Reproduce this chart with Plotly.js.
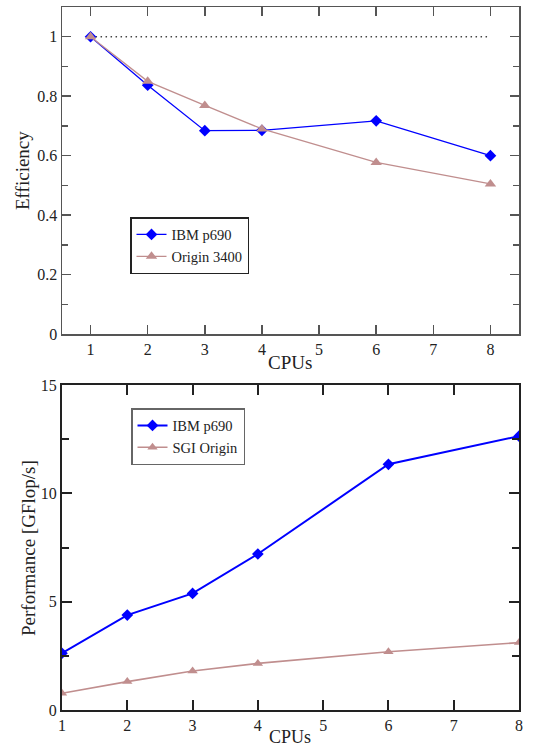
<!DOCTYPE html>
<html>
<head>
<meta charset="utf-8">
<script src="https://cdn.plot.ly/plotly-3.0.1.min.js"></script>
<style>html,body{margin:0;padding:0;background:#fff;}#chart{width:533px;height:749px;}</style>
</head>
<body>
<div id="chart"></div>
<script>
// ---- data ----
const cpus = [1, 2, 3, 4, 6, 8];
const effIBM = [1.0, 0.837, 0.684, 0.685, 0.717, 0.600];
const effOrigin = [1.0, 0.850, 0.769, 0.690, 0.577, 0.505];
const refX = [1, 8];
const refY = [1, 1];
const perfIBM = [2.62, 4.38, 5.38, 7.20, 11.34, 12.64];
const perfSGI = [0.77, 1.31, 1.80, 2.15, 2.69, 3.11];
const xTicks = [1, 2, 3, 4, 5, 6, 7, 8];
const effTicks = [0, 0.2, 0.4, 0.6, 0.8, 1];
const effTickText = ["0", "0.2", "0.4", "0.6", "0.8", "1"];
const perfTicks = [0, 5, 10, 15];

const blue = "#0000ff";
const rose = "#c08e8e";
const serif = "Liberation Serif";

const traces = [
  {x: refX, y: refY, xaxis: "x", yaxis: "y", mode: "lines", showlegend: false,
   line: {color: "#444", width: 1.3, dash: "1.5px,3.5px"}, hoverinfo: "skip"},
  {x: cpus, y: effIBM, xaxis: "x", yaxis: "y", mode: "lines+markers", name: "IBM p690", legend: "legend",
   line: {color: blue, width: 1.3}, marker: {symbol: "diamond", size: 9, color: blue}},
  {x: cpus, y: effOrigin, xaxis: "x", yaxis: "y", mode: "lines+markers", name: "Origin 3400", legend: "legend",
   line: {color: rose, width: 1.3}, marker: {symbol: "triangle-up", size: 10, color: rose}},
  {x: cpus, y: perfIBM, xaxis: "x2", yaxis: "y2", mode: "lines+markers", name: "IBM p690", legend: "legend2",
   line: {color: blue, width: 2}, marker: {symbol: "diamond", size: 9, color: blue}},
  {x: cpus, y: perfSGI, xaxis: "x2", yaxis: "y2", mode: "lines+markers", name: "SGI Origin", legend: "legend2",
   line: {color: rose, width: 1.6}, marker: {symbol: "triangle-up", size: 9, color: rose}}
];

const W = 533, H = 749;
const xd = [62 / W, 519 / W];
const tickFont = {family: serif, size: 16, color: "#222"};

const axBase = {
  showgrid: false, zeroline: false, showline: true, mirror: "allticks",
  ticks: "inside", fixedrange: true, tickfont: tickFont
};

const layout = {
  width: W, height: H,
  margin: {l: 0, r: 0, t: 0, b: 0},
  paper_bgcolor: "#fff", plot_bgcolor: "#fff",
  font: {family: serif, color: "#222"},
  xaxis: Object.assign({}, axBase, {
    domain: xd, anchor: "y", range: [0.5, 8.5], tickvals: xTicks,
    linecolor: "#555", linewidth: 1.5, tickcolor: "#555", ticklen: 9, tickwidth: 1.5
  }),
  yaxis: Object.assign({}, axBase, {
    domain: [1 - 334 / H, 1 - 7 / H], anchor: "x", range: [0, 1.1],
    tickvals: effTicks, ticktext: effTickText,
    linecolor: "#555", linewidth: 1.5, tickcolor: "#555", ticklen: 9, tickwidth: 1.5,
    minor: {dtick: 0.1, tick0: 0, ticks: "inside", ticklen: 6, tickcolor: "#555", tickwidth: 1.5}
  }),
  xaxis2: Object.assign({}, axBase, {
    domain: xd, anchor: "y2", range: [1, 8], tickvals: xTicks,
    linecolor: "#222", linewidth: 2, tickcolor: "#222", ticklen: 10, tickwidth: 2,
    tickfont: {family: serif, size: 16, color: "#222"}
  }),
  yaxis2: Object.assign({}, axBase, {
    domain: [1 - 710 / H, 1 - 385 / H], anchor: "x2", range: [0, 15],
    tickvals: perfTicks,
    linecolor: "#222", linewidth: 2, tickcolor: "#222", ticklen: 10, tickwidth: 2,
    tickfont: {family: serif, size: 16, color: "#222"},
    minor: {dtick: 2.5, tick0: 0, ticks: "inside", ticklen: 7, tickcolor: "#222", tickwidth: 2}
  }),
  legend: {
    x: 130 / W, y: 1 - 217 / H, xanchor: "left", yanchor: "top",
    bgcolor: "#fff", bordercolor: "#222", borderwidth: 1.5,
    font: {family: serif, size: 14.5, color: "#222"},
    tracegroupgap: 0, itemwidth: 30
  },
  legend2: {
    x: 131 / W, y: 1 - 408 / H, xanchor: "left", yanchor: "top",
    bgcolor: "#fff", bordercolor: "#666", borderwidth: 1.5,
    font: {family: serif, size: 14.5, color: "#222"},
    tracegroupgap: 0, itemwidth: 30
  },
  annotations: [
    {text: "CPUs", xref: "paper", yref: "paper", x: 290 / W, y: 1 - 362 / H,
     xanchor: "center", yanchor: "middle", showarrow: false, font: {family: serif, size: 19, color: "#222"}},
    {text: "Efficiency", xref: "paper", yref: "paper", x: 23 / W, y: 1 - 171 / H, textangle: -90,
     xanchor: "center", yanchor: "middle", showarrow: false, font: {family: serif, size: 19, color: "#222"}},
    {text: "CPUs", xref: "paper", yref: "paper", x: 290 / W, y: 1 - 737 / H,
     xanchor: "center", yanchor: "middle", showarrow: false, font: {family: serif, size: 18, color: "#222"}},
    {text: "Performance [GFlop/s]", xref: "paper", yref: "paper", x: 28 / W, y: 1 - 548 / H, textangle: -90,
     xanchor: "center", yanchor: "middle", showarrow: false, font: {family: serif, size: 19, color: "#222"}}
  ]
};

Plotly.newPlot("chart", traces, layout, {staticPlot: true, displayModeBar: false});
</script>
</body>
</html>
